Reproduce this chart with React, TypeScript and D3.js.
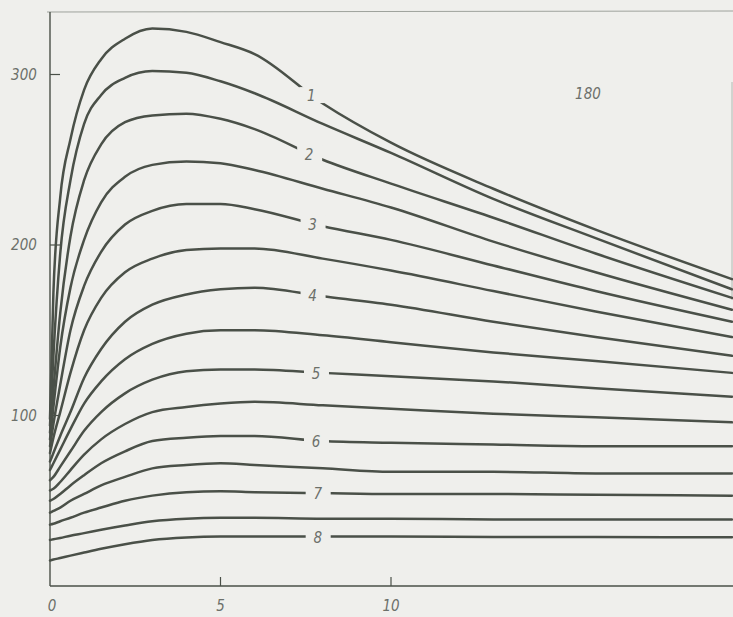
import React from "react";
import * as d3 from "d3";

// sample abscissae (common to all curves)
const T = [0, 0.1, 0.3, 0.6, 1, 1.5, 2.2, 3, 4, 5, 6, 8, 10, 13, 16, 20];

// curves, top to bottom
const curve1 = [98, 172, 228, 262, 291, 309, 321, 327, 325, 319, 312, 283, 260, 233, 209, 180];
const curve2 = [94, 135, 195, 238, 271, 288, 298, 302, 301, 296, 289, 271, 254, 227, 204, 174];
const curve3 = [90, 115, 160, 205, 238, 259, 272, 276, 277, 274, 268, 250, 236, 216, 195, 169];
const curve4 = [86, 105, 140, 175, 203, 225, 240, 247, 249, 248, 244, 233, 222, 202, 184, 162];
const curve5 = [82, 95, 118, 150, 176, 196, 212, 220, 224, 224, 221, 211, 203, 188, 173, 155];
const curve6 = [78, 87, 102, 125, 150, 169, 184, 192, 197, 198, 198, 192, 185, 173, 161, 146];
const curve7 = [73, 78, 88, 102, 122, 139, 155, 165, 171, 174, 175, 170, 165, 155, 146, 135];
const curve8 = [68, 72, 80, 92, 107, 120, 133, 142, 148, 150, 150, 147, 143, 137, 132, 125];
const curve9 = [62, 64, 70, 79, 91, 102, 113, 121, 126, 127, 127, 125, 123, 120, 116, 111];
const curve10 = [56, 57, 61, 68, 77, 86, 95, 102, 105, 107, 108, 106, 104, 101, 99, 96];
const curve11 = [50, 51, 54, 59, 65, 72, 79, 85, 87, 88, 88, 85, 84, 83, 82, 82];
const curve12 = [43, 44, 46, 50, 54, 59, 64, 69, 71, 72, 71, 69, 67, 67, 66, 66];
const curve13 = [36, 36.5, 38, 40, 43, 46, 50, 53, 55, 55.5, 55, 54.5, 54, 54, 53.5, 53];
const curve14 = [27, 27.4, 28.2, 29.5, 31, 33, 35.5, 38, 39.5, 40, 40, 39.5, 39.5, 39, 39, 39];
const curve15 = [15, 15.5, 16.4, 17.8, 19.6, 21.8, 24.5, 27, 28.5, 29, 29, 29, 29, 28.8, 28.7, 28.6];

const curves = [curve1, curve2, curve3, curve4, curve5, curve6, curve7, curve8,
  curve9, curve10, curve11, curve12, curve13, curve14, curve15];

// labels on every other curve
const labelTexts = ["1", "2", "3", "4", "5", "6", "7", "8"];
const labelCurveIndex = [0, 2, 4, 6, 8, 10, 12, 14];
const labelT = [7.66, 7.6, 7.7, 7.7, 7.8, 7.8, 7.85, 7.85];

const xTicks = [0, 5, 10];
const xTickLabels = ["0", "5", "10"];
const yTicks = [100, 200, 300];
const yTickLabels = ["100", "200", "300"];
const cornerNote = "180";

const W = 733;
const H = 617;
const BG = "#efefec";
const INK = "#4a5048";
const TEXT = "#6c706a";

function interp(xs: number[], ys: number[], x: number) {
  for (let i = 0; i < xs.length - 1; i++) {
    if (x >= xs[i] && x <= xs[i + 1]) {
      const f = (x - xs[i]) / (xs[i + 1] - xs[i]);
      return ys[i] + f * (ys[i + 1] - ys[i]);
    }
  }
  return ys[ys.length - 1];
}

export default function App() {
  const x = d3.scaleLinear().domain([0, 20]).range([50, 732]);
  const y = d3.scaleLinear().domain([0, 300]).range([586, 74.5]);
  const line = d3
    .line<number>()
    .x((_, i) => x(T[i]))
    .y((d) => y(d))
    .curve(d3.curveMonotoneX);

  const fontFamily = "'DejaVu Sans Condensed', 'DejaVu Sans', sans-serif";

  return (
    <svg
      width={W}
      height={H}
      style={{ position: "absolute", left: 0, top: 0, display: "block" }}
    >
      <rect x={0} y={0} width={W} height={H} fill={BG} />
      {/* frame */}
      <line x1={47} x2={733} y1={12} y2={11} stroke="#9ea29c" strokeWidth={1} />
      <line x1={732} x2={732} y1={82} y2={300} stroke="#b4b8b2" strokeWidth={1} />
      <line x1={x(0)} x2={x(0)} y1={12} y2={y(0)} stroke={INK} strokeWidth={1.4} />
      <line x1={x(0)} x2={733} y1={y(0)} y2={y(0)} stroke={INK} strokeWidth={1.4} />

      {/* ticks */}
      {yTicks.map((t, i) => (
        <g key={"y" + t}>
          <line x1={x(0)} x2={x(0) + 10} y1={y(t)} y2={y(t)} stroke={INK} strokeWidth={1.2} />
          <text
            x={24}
            y={y(t) + 5}
            textAnchor="middle"
            fontFamily={fontFamily}
            fontStyle="italic"
            fontSize={15}
            fill={TEXT}
          >
            {yTickLabels[i]}
          </text>
        </g>
      ))}
      {xTicks.map((t, i) => (
        <g key={"x" + t}>
          {t > 0 && (
            <line x1={x(t)} x2={x(t)} y1={y(0)} y2={y(0) - 9} stroke={INK} strokeWidth={1.2} />
          )}
          <text
            x={x(t) + (t === 0 ? 2 : 0)}
            y={611}
            textAnchor="middle"
            fontFamily={fontFamily}
            fontStyle="italic"
            fontSize={15}
            fill={TEXT}
          >
            {xTickLabels[i]}
          </text>
        </g>
      ))}

      {/* curves */}
      {curves.map((c, i) => (
        <path
          key={"c" + i}
          d={line(c) || ""}
          fill="none"
          stroke={INK}
          strokeWidth={2.5}
          strokeLinecap="round"
        />
      ))}

      {/* curve labels with gaps */}
      {labelTexts.map((lab, i) => {
        const c = curves[labelCurveIndex[i]];
        const t = labelT[i];
        const px = x(t);
        const py = y(interp(T, c, t));
        return (
          <g key={"l" + lab}>
            <rect x={px - 12} y={py - 8} width={25} height={16} fill={BG} />
            <text
              x={px}
              y={py + 6}
              textAnchor="middle"
              fontFamily={fontFamily}
              fontStyle="italic"
              fontSize={15}
              fill={TEXT}
            >
              {lab}
            </text>
          </g>
        );
      })}

      <text
        x={588}
        y={99}
        textAnchor="middle"
        fontFamily={fontFamily}
        fontStyle="italic"
        fontSize={15}
        fill={TEXT}
      >
        {cornerNote}
      </text>
    </svg>
  );
}
